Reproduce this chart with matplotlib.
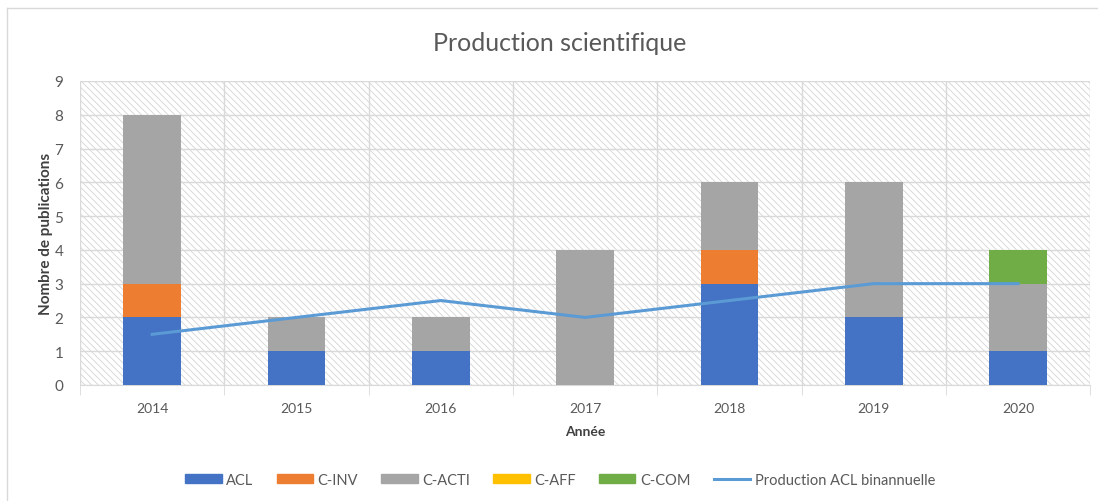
import numpy as np
import matplotlib.pyplot as plt
from matplotlib.patches import Rectangle
from matplotlib.lines import Line2D

# Données
annees = ['2014', '2015', '2016', '2017', '2018', '2019', '2020']
acl = [2, 1, 1, 0, 3, 2, 1]
c_inv = [1, 0, 0, 0, 1, 0, 0]
c_acti = [5, 1, 1, 4, 2, 4, 2]
c_aff = [0, 0, 0, 0, 0, 0, 0]
c_com = [0, 0, 0, 0, 0, 0, 1]
acl_binannuelle = [1.5, 2, 2.5, 2, 2.5, 3, 3]

plt.rcParams['font.family'] = ['Lato', 'DejaVu Sans']
plt.rcParams['hatch.linewidth'] = 0.6

fig = plt.figure(figsize=(10.98, 5.02), dpi=100)
ax = fig.add_axes([0.0729, 0.2311, 0.92, 0.6056])

x = np.arange(len(annees))
ax.set_xlim(-0.5, len(annees) - 0.5)
ax.set_ylim(0, 9)

# fond hachuré de la zone de tracé
ax.add_patch(Rectangle((0, 0), 1, 1, transform=ax.transAxes, facecolor='white',
                       edgecolor='#d4d4d4', hatch='\\\\\\\\\\', linewidth=0, zorder=0))

series = [('ACL', acl, '#4472C4'), ('C-INV', c_inv, '#ED7D31'),
          ('C-ACTI', c_acti, '#A5A5A5'), ('C-AFF', c_aff, '#FFC000'),
          ('C-COM', c_com, '#70AD47')]
bottom = np.zeros(len(annees))
handles = []
for nom, vals, col in series:
    ax.bar(x, vals, width=0.4, bottom=bottom, color=col, zorder=3)
    bottom += np.array(vals)
    handles.append(Rectangle((0, 0), 1, 1, color=col, label=nom))

ax.plot(x, acl_binannuelle, color='#5B9BD5', linewidth=2.2, zorder=4)
handles.append(Line2D([0], [0], color='#5B9BD5', linewidth=2.2,
                      label='Production ACL binannuelle'))

# grille
ax.set_yticks(range(10))
ax.yaxis.grid(True, color='#D9D9D9', linewidth=1, zorder=1)
ax.set_xticks(x)
ax.set_xticklabels(annees)
ax.set_xticks(np.arange(-0.5, len(annees)), minor=True)
ax.xaxis.grid(True, which='minor', color='#D9D9D9', linewidth=1, zorder=1)
ax.tick_params(axis='x', which='major', length=0, pad=12, labelsize=10, labelcolor='#595959')
ax.tick_params(axis='x', which='minor', length=7, color='#D9D9D9')
ax.tick_params(axis='y', length=0, pad=12, labelsize=11, labelcolor='#595959')
for s in ['top', 'right', 'left']:
    ax.spines[s].set_visible(False)
ax.spines['bottom'].set_color('#D9D9D9')
ax.set_axisbelow(True)

ax.set_xlabel('Année', fontsize=10, fontweight='bold', color='#404040', labelpad=8)
ax.set_ylabel('Nombre de publications', fontsize=11, fontweight='bold', color='#404040', labelpad=1)

fig.text(0.51, 0.913, 'Production scientifique', ha='center', va='center',
         fontsize=18, color='#595959')

fig.legend(handles=handles, loc='center', bbox_to_anchor=(0.51, 0.042), ncol=6,
           frameon=False, fontsize=10.5, handlelength=2.5, handleheight=0.55,
           columnspacing=1.6, handletextpad=0.3, labelcolor='#595959')

# cadre du graphique
fig.add_artist(Line2D([7 / 1098, 7 / 1098], [0, 1 - 9 / 502], color='#D9D9D9', linewidth=1))
fig.add_artist(Line2D([7 / 1098, 1], [1 - 9 / 502, 1 - 9 / 502], color='#D9D9D9', linewidth=1))

fig.savefig('out.png', dpi=100)
